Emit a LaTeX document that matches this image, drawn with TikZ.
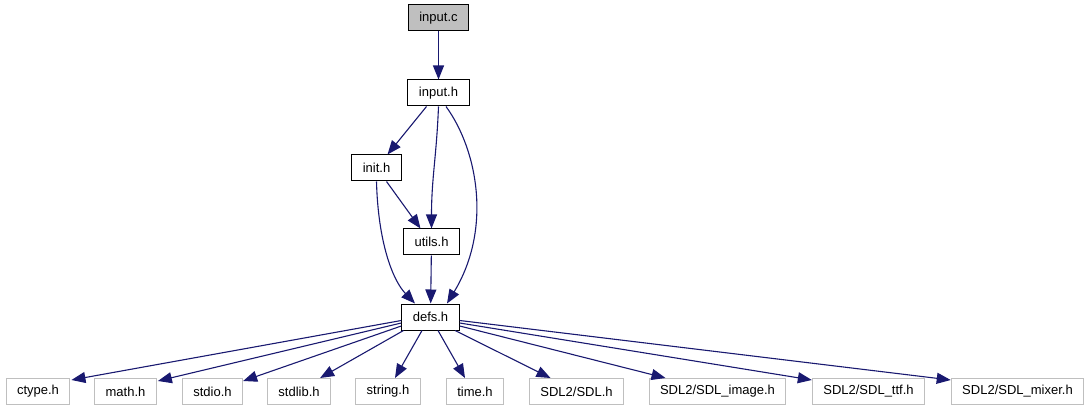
\documentclass[tikz,border=0pt]{standalone}
\usepackage{fontspec}
\setmainfont{Liberation Sans}
\usetikzlibrary{positioning,arrows.meta}
\definecolor{edgeblue}{HTML}{191970}
\definecolor{extgray}{HTML}{BFBFBF}
\tikzset{
  file/.style={draw=black, line width=1pt, minimum height=26pt, inner xsep=11pt, inner ysep=0pt, font=\fontsize{13}{15}\selectfont},
  sysfile/.style={file, draw=extgray},
  edge/.style={draw=edgeblue, line width=1.1pt, -{Triangle[length=14pt,width=11pt]}}}
\begin{document}
\begin{tikzpicture}[x=1pt, y=1pt]
\useasboundingbox (0,0) rectangle (1091,-411);
\node[file, fill=extgray] (inputc) at (438.5,-18) {input.c};
\node[file] (inputh) at (438.5,-93) {input.h};
\node[file] (inith) at (376.5,-168) {init.h};
\node[file] (utilsh) at (431.5,-242) {utils.h};
\node[file] (defsh) at (430.5,-317) {defs.h};
\node[sysfile] (ctypeh) at (38,-391.5) {ctype.h};
\node[sysfile] (mathh) at (125.5,-391.5) {math.h};
\node[sysfile] (stdioh) at (212.5,-391.5) {stdio.h};
\node[sysfile] (stdlibh) at (299,-391.5) {stdlib.h};
\node[sysfile] (stringh) at (388,-391.5) {string.h};
\node[sysfile] (timeh) at (475,-391.5) {time.h};
\node[sysfile] (sdlh) at (576.5,-391.5) {SDL2/SDL.h};
\node[sysfile] (sdlimageh) at (717.5,-391.5) {SDL2/SDL\_image.h};
\node[sysfile] (sdlttfh) at (868.5,-391.5) {SDL2/SDL\_ttf.h};
\node[sysfile] (sdlmixerh) at (1017.5,-391.5) {SDL2/SDL\_mixer.h};
% includes of input.c and the headers
\draw[edge] (inputc) -- (inputh);
\draw[edge] ([xshift=-12pt]inputh.south) -- ([xshift=11pt]inith.north);
\draw[edge] (inputh.south) .. controls +(-2,-50) and +(0,50) .. (utilsh.north);
\draw[edge] ([xshift=7.5pt]inputh.south) .. controls +(32,-44) and +(45,74) .. ([xshift=16.5pt]defsh.north);
\draw[edge] ([xshift=10pt]inith.south) -- ([xshift=-11pt]utilsh.north);
\draw[edge] (inith.south) .. controls +(1.5,-59) and +(-23,24) .. ([xshift=-15.5pt]defsh.north);
\draw[edge] (utilsh) -- (defsh);
% system and SDL headers
\draw[edge] ([yshift=-3.5pt]defsh.west) -- ([xshift=1pt,yshift=-2pt]ctypeh.north east);
\draw[edge] ([yshift=-6pt]defsh.west) -- ([xshift=1pt,yshift=-3pt]mathh.north east);
\draw[edge] ([yshift=-9pt]defsh.west) -- ([yshift=-3pt]stdioh.north east);
\draw[edge] ([xshift=-27pt]defsh.south) -- ([xshift=-11pt]stdlibh.north east);
\draw[edge] ([xshift=-8.5pt]defsh.south) -- ([xshift=7pt]stringh.north);
\draw[edge] ([xshift=7.5pt]defsh.south) -- ([xshift=-10pt]timeh.north);
\draw[edge] ([xshift=24.5pt]defsh.south) -- ([xshift=-26pt]sdlh.north);
\draw[edge] ([yshift=-9pt]defsh.east) -- ([xshift=-52pt]sdlimageh.north);
\draw[edge] ([yshift=-6pt]defsh.east) -- ([yshift=-2pt]sdlttfh.north west);
\draw[edge] ([yshift=-3.5pt]defsh.east) -- ([yshift=-2pt]sdlmixerh.north west);
\end{tikzpicture}
\end{document}
